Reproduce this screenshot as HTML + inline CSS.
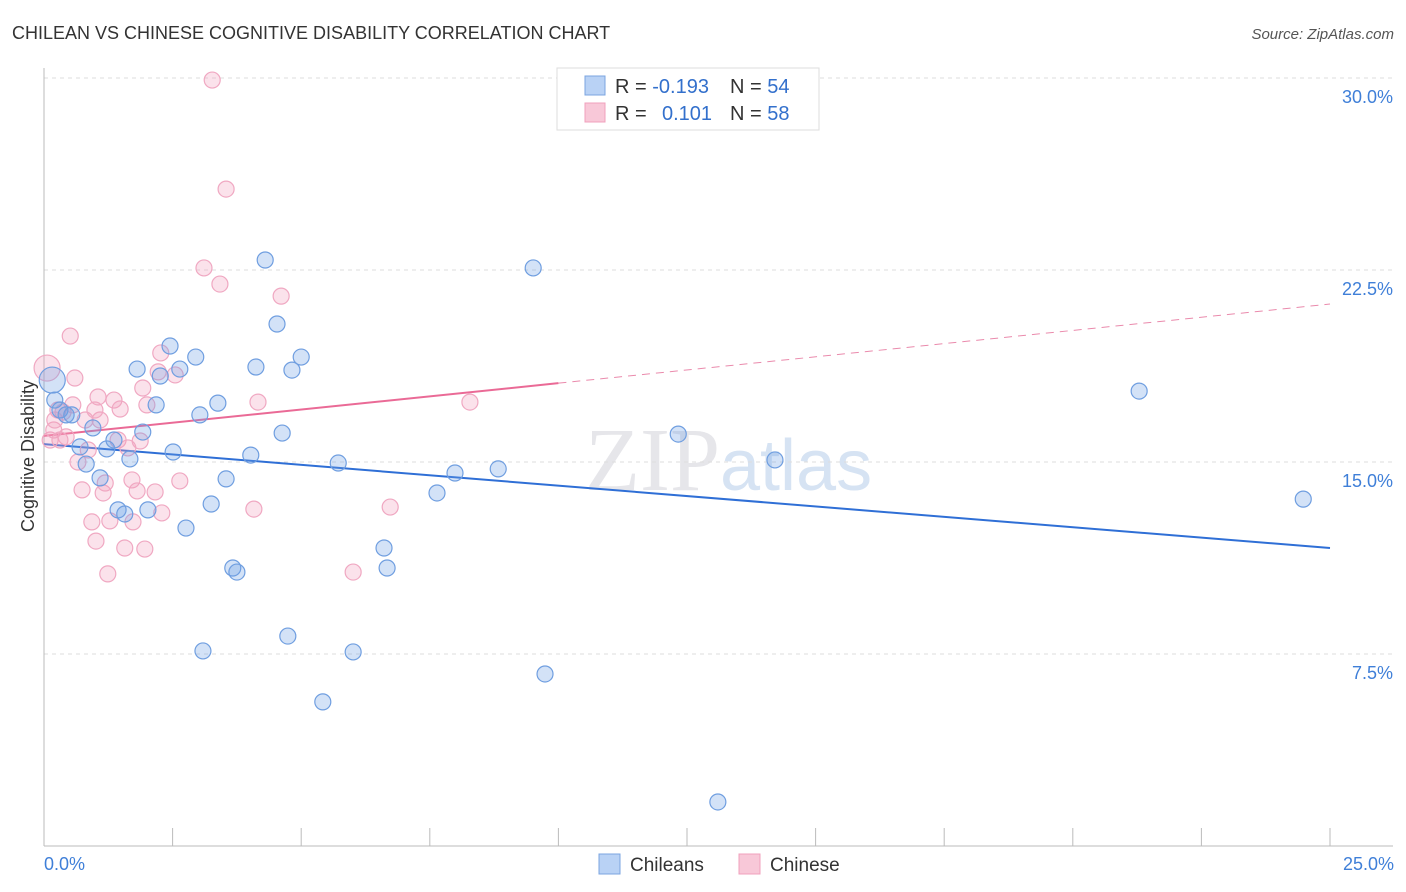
<!DOCTYPE html>
<html><head><meta charset="utf-8"><style>
body{margin:0;background:#fff;font-family:"Liberation Sans",sans-serif;}
svg{display:block}
</style></head><body>
<svg width="1406" height="892" id="chart">
<text x="12" y="39" font-size="18" fill="#333">CHILEAN VS CHINESE COGNITIVE DISABILITY CORRELATION CHART</text>
<text x="1394" y="39" font-size="15" fill="#555" font-style="italic" text-anchor="end">Source: ZipAtlas.com</text>
<text x="720" y="490" font-size="90" fill="#e6e6ea" text-anchor="end" font-family="Liberation Serif">ZIP</text>
<text x="720" y="490" font-size="72" fill="#d6e3f3">atlas</text>
<text transform="translate(34,456) rotate(-90)" font-size="18" fill="#333" text-anchor="middle">Cognitive Disability</text>
<g id="grid"></g><g id="axes"></g><g id="trend"></g><g id="pts"></g>
<g>
<rect x="557" y="68" width="262" height="62" fill="#fff" stroke="#ddd"/>
<rect x="585" y="76" width="20" height="19" fill="#b9d2f5" stroke="#7ba4e0"/>
<rect x="585" y="103" width="20" height="19" fill="#f8c8d8" stroke="#f0a0bc"/>
<text x="615" y="93" font-size="20" fill="#333">R = <tspan fill="#3370cc">-0.193</tspan><tspan x="730">N = </tspan><tspan fill="#3370cc">54</tspan></text>
<text x="615" y="120" font-size="20" fill="#333">R = <tspan x="662" fill="#3370cc">0.101</tspan><tspan x="730">N = </tspan><tspan fill="#3370cc">58</tspan></text>
</g>
<g>
<rect x="599" y="854" width="21" height="20" fill="#b9d2f5" stroke="#7ba4e0"/>
<text x="630" y="871" font-size="19" fill="#333">Chileans</text>
<rect x="739" y="854" width="21" height="20" fill="#f8c8d8" stroke="#f0a0bc"/>
<text x="770" y="871" font-size="19" fill="#333">Chinese</text>
</g>
<text x="44" y="870" font-size="18" fill="#3f7fd8">0.0%</text>
<text x="1394" y="870" font-size="18" fill="#3f7fd8" text-anchor="end">25.0%</text>
</svg>
<script>
const blueX=[.16,.21,.31,.43,.54,.70,.82,.95,1.09,1.22,1.36,1.44,1.57,1.67,1.81,1.92,2.02,2.18,2.26,2.45,2.51,2.64,2.76,2.95,3.03,3.09,3.25,3.38,3.54,3.67,3.75,4.02,4.12,4.30,4.53,4.63,4.74,4.82,5.00,5.42,5.72,6.01,6.61,6.67,7.64,7.99,8.83,9.51,9.74,12.33,13.10,14.21,21.29,24.48];
const blueY=[18.20,17.42,17.03,16.84,16.84,15.59,14.92,16.33,14.38,15.51,15.86,13.13,12.97,15.12,18.63,16.17,13.13,17.23,18.36,19.53,15.39,18.63,12.42,19.10,16.84,7.62,13.36,17.30,14.34,10.86,10.70,15.27,18.71,22.89,20.39,16.13,8.20,18.59,19.10,5.63,14.96,7.58,11.64,10.86,13.79,14.57,14.73,22.58,6.72,16.09,1.72,15.08,17.77,13.55];
const pinkX=[.06,.12,.19,.27,.37,.43,.51,.56,.60,.66,.74,.80,.86,.93,1.01,1.05,1.09,1.15,1.19,1.24,1.28,1.36,1.44,1.48,1.57,1.63,1.71,1.73,1.81,1.87,1.92,1.96,2.00,2.16,2.22,2.27,2.29,2.55,2.64,3.11,3.27,3.42,3.54,4.08,4.16,4.61,6.01,6.73,8.28,.21,.99,.31];
const pinkY=[18.67,15.86,16.25,17.03,16.95,15.98,19.92,17.23,18.28,15.00,13.91,16.64,15.47,12.66,11.91,17.54,16.64,13.79,14.18,10.63,12.70,17.42,15.86,17.07,11.64,15.55,14.30,12.66,13.87,15.82,17.89,11.60,17.23,13.83,18.52,19.26,13.01,18.40,14.26,22.58,29.92,21.95,25.66,13.16,17.34,21.48,10.70,13.24,17.34,16.64,17.03,15.86];
const yTicks=[7.5,15,22.5,30];
const xTicks=[0,2.5,5,7.5,10,12.5,15,17.5,20,22.5,25];
const blueTrend=[15.70,11.64];
const pinkTrend=[16.02,21.17];
const pinkSolidEnd=10;
const sx=v=>44+v*51.44, sy=v=>846-v*25.6;
const NS="http://www.w3.org/2000/svg";
function mk(p,t,a){const e=document.createElementNS(NS,t);for(const k in a)e.setAttribute(k,a[k]);p.appendChild(e);return e;}
const grid=document.getElementById('grid'),axes=document.getElementById('axes'),trend=document.getElementById('trend'),pts=document.getElementById('pts');
yTicks.forEach(t=>{
 const l=mk(grid,'line',{x1:44,x2:1393,y1:sy(t),y2:sy(t),stroke:'#ddd','stroke-dasharray':'4,4'});
 
 
 const tx=mk(grid,'text',{x:1393,y:sy(t)+25,'font-size':18,fill:'#3f7fd8','text-anchor':'end'});
 tx.textContent=t.toFixed(1)+'%';
 
 
});
const ax=mk(axes,'line',{x1:44,x2:44,y1:68,y2:846,stroke:'#bbb'});


const bx=mk(axes,'line',{x1:44,x2:1393,y1:846,y2:846,stroke:'#bbb'});


xTicks.forEach(t=>{
 const l=mk(axes,'line',{x1:sx(t),x2:sx(t),y1:828,y2:846,stroke:'#bbb'});
 
 
});
function dots(X,Y,fill,stroke,name){X.forEach((x,i)=>{
 const c=mk(pts,'circle',{cx:sx(x),cy:sy(Y[i]),r:(i==0?13:8),fill:fill,stroke:stroke,'stroke-width':1.2});
 
 
});}
dots(pinkX,pinkY,'rgba(242,160,190,0.3)','#f0a8c2','chinese-point');
dots(blueX,blueY,'rgba(110,160,230,0.3)','#6f9ee0','chileans-point');
const bt=mk(trend,'line',{x1:sx(0),y1:sy(blueTrend[0]),x2:sx(25),y2:sy(blueTrend[1]),stroke:'#2f6fd6','stroke-width':2});


const pAt=v=>pinkTrend[0]+(pinkTrend[1]-pinkTrend[0])*v/25;
const pt=mk(trend,'line',{x1:sx(0),y1:sy(pAt(0)),x2:sx(pinkSolidEnd),y2:sy(pAt(pinkSolidEnd)),stroke:'#ea6a96','stroke-width':2});


const pd=mk(trend,'line',{x1:sx(pinkSolidEnd),y1:sy(pAt(pinkSolidEnd)),x2:sx(25),y2:sy(pAt(25)),stroke:'#ea8aac','stroke-width':1,'stroke-dasharray':'8,6'});


</script>
</body></html>
